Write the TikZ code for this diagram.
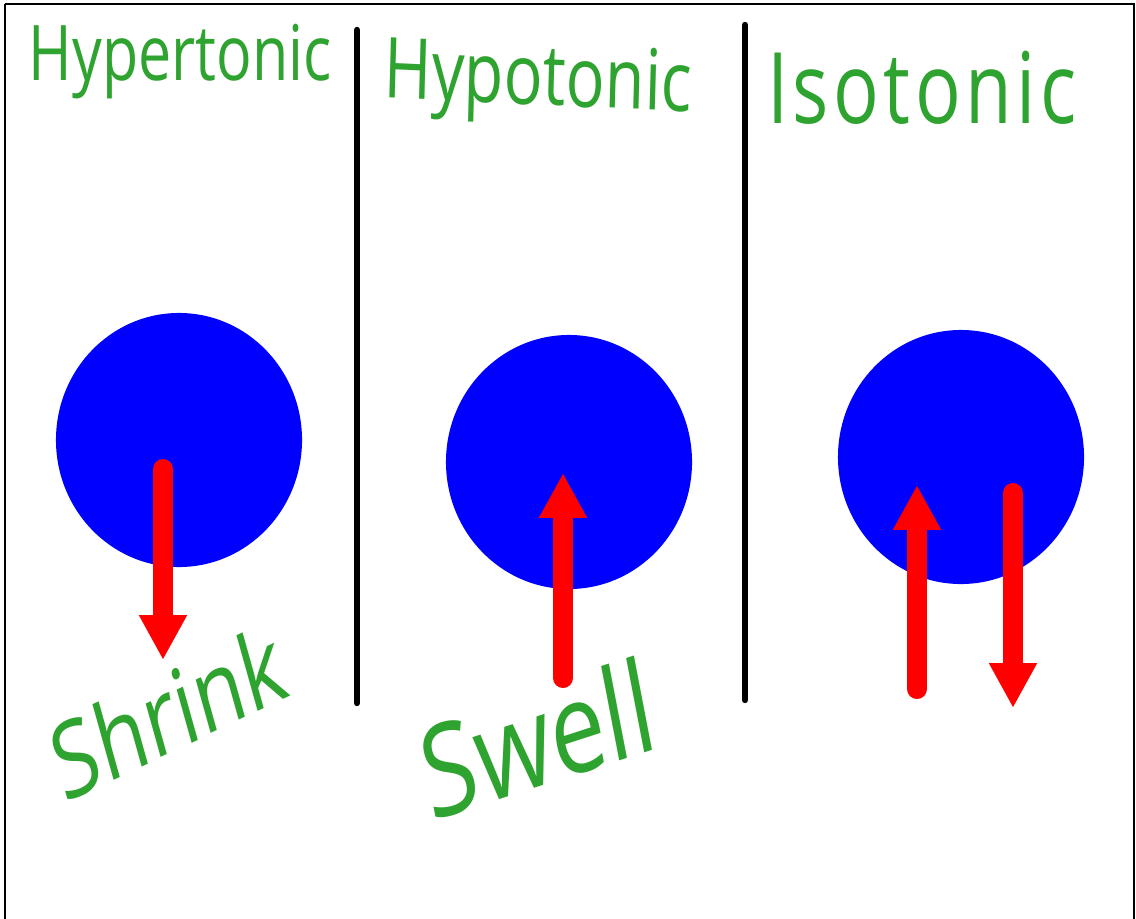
\documentclass[tikz,border=0pt]{standalone}
\usepackage{fontspec}
\setmainfont{Open Sans}
\usepackage{xcolor}
\usepackage{tikz}
\usetikzlibrary{arrows.meta,shapes.geometric}
\definecolor{cellBlue}{HTML}{0000FF}
\definecolor{flowRed}{HTML}{FF0000}
\definecolor{inkGreen}{HTML}{2FA32F}

\tikzset{
  cell/.style={ellipse, fill=cellBlue, inner sep=0pt, minimum width=6.15cm, minimum height=6.35cm},
  flow/.style={flowRed, line width=0.5cm, line cap=round, -{Triangle[length=1.12cm, width=1.12cm]}},
  divider/.style={black, line width=0.16cm, line cap=round},
  label/.style={text=inkGreen, inner sep=1pt, font=\fontsize{42}{46}\selectfont, yscale=1.3, transform shape}
}

\begin{document}
\begin{tikzpicture}[x=0.025cm, y=-0.025cm]
  \useasboundingbox (0,0) rectangle (1136,919);
  \fill[white] (0,0) rectangle (1136,919);
  \draw[black, line width=0.06cm] (5,4) -- (1134,4) -- (1134,930) (5,4) -- (5,930);

  % columns
  \draw[divider] (357,30) -- (357,703);
  \draw[divider] (745,25) -- (745,700);

  % titles
  \node[label] (hyper) at (180,62) {Hypertonic};
  \node[label, font=\fontsize{46}{50}\selectfont, rotate=-2] (hypo) at (538,84) {Hypotonic};
  \node[label, font=\fontsize{54}{58}\selectfont\addfontfeatures{LetterSpace=6}] (iso) at (922,88) {Isotonic};

  % cells
  \node[cell] (c1) at (179,440) {};
  \node[cell] (c2) at (569,462) {};
  \node[cell] (c3) at (961,457) {};

  % water flow
  \coordinate (s1) at (163,469);  \coordinate (t1) at (163,660);
  \coordinate (s2) at (563,678);  \coordinate (t2) at (563,473);
  \coordinate (s3) at (917,689);  \coordinate (t3) at (917,485);
  \coordinate (s4) at (1013,493); \coordinate (t4) at (1013,708);
  \draw[flow] (s1) -- (t1);
  \draw[flow] (s2) -- (t2);
  \draw[flow] (s3) -- (t3);
  \draw[flow] (s4) -- (t4);

  \node[label, font=\fontsize{58}{62}\selectfont, rotate=20] (shrink) at (168,712) {Shrink};
  \node[label, font=\fontsize{70}{74}\selectfont, rotate=14] (swell) at (537,738) {Swell};
\end{tikzpicture}
\end{document}
